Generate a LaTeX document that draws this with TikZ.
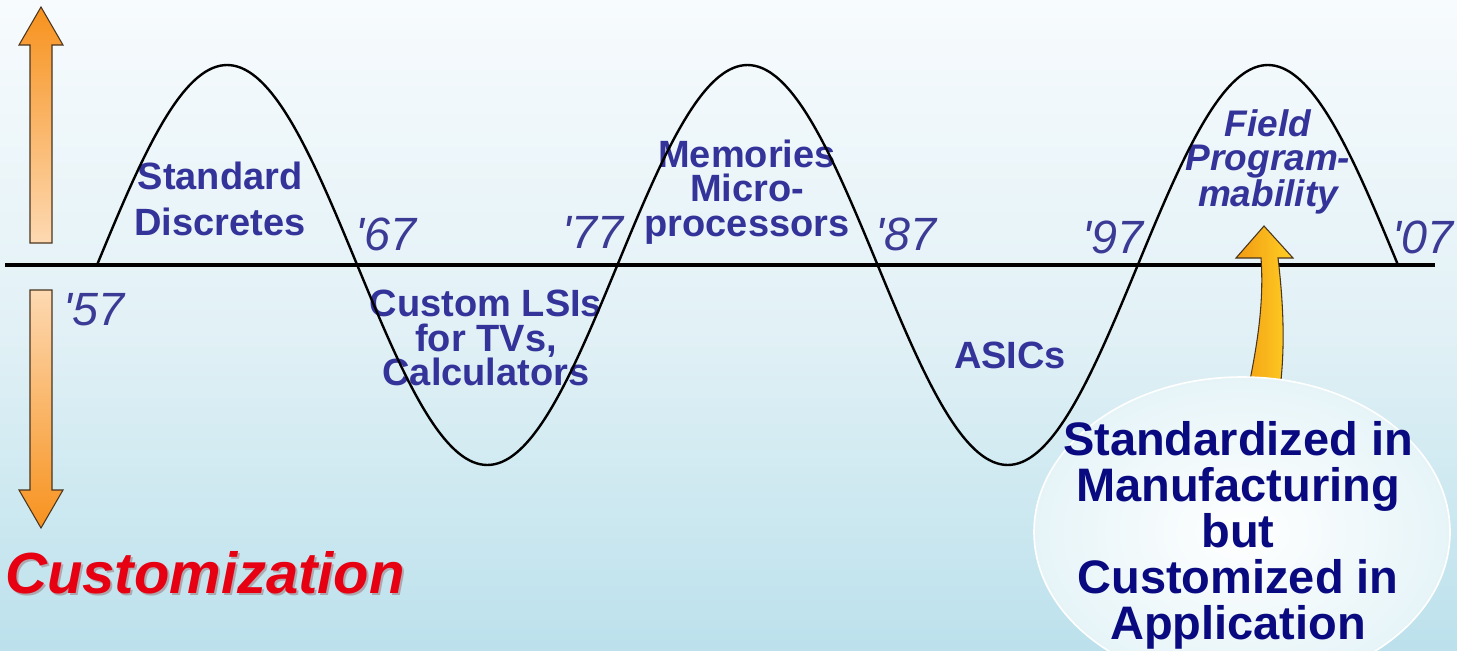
\documentclass[tikz,border=0pt]{standalone}
\usepackage{fontspec}
\setmainfont{Liberation Sans}
\usetikzlibrary{shapes.geometric}

\definecolor{labelblue}{HTML}{333399}
\definecolor{yearblue}{HTML}{3B3B96}
\definecolor{navytext}{HTML}{0A0A80}
\definecolor{custred}{HTML}{E60012}
\definecolor{custshade}{HTML}{7A2020}
\definecolor{arroworange}{HTML}{F7921E}
\definecolor{arrowpale}{HTML}{FDD9B2}
\definecolor{arrowedge}{HTML}{4A3520}
\definecolor{bendorange}{HTML}{F29A12}
\definecolor{bendyellow}{HTML}{FFD024}
\definecolor{bgtop}{HTML}{F7FBFD}
\definecolor{bgmid}{HTML}{E2F1F6}
\definecolor{bgbot}{HTML}{BCE1EC}
\definecolor{bubbleedge}{HTML}{E6F4F8}

\begin{document}
\begin{tikzpicture}[x=0.75pt,y=-0.75pt,
  era/.style={font=\bfseries\fontsize{28.5}{#1}\selectfont, text=labelblue,
              align=center, inner sep=0pt},
  era/.default=25.9,
  yearlabel/.style={font=\itshape\fontsize{35}{40}\selectfont, text=yearblue,
                    inner sep=0pt, anchor=base west},
  blockarrow/.style={draw=arrowedge, line width=0.8pt, line join=miter},
  axisline/.style={line width=3pt},
  waveline/.style={line width=1.8pt},
]
% page and background
\useasboundingbox (0,0) rectangle (1457,650);
\shade[top color=bgtop, bottom color=bgbot, middle color=bgmid] (0,0) rectangle (1457,650);

% standardization / customization arrows on the left
\path[blockarrow, top color=arroworange, bottom color=arrowpale]
  (30,243) -- (30,45) -- (19,45) -- (41,7) -- (63,45) -- (52,45) -- (52,243) -- cycle;
\path[blockarrow, top color=arrowpale, bottom color=arroworange]
  (30,290) -- (52,290) -- (52,490) -- (63,490) -- (41,528) -- (19,490) -- (30,490) -- cycle;

% era labels
\node[era=34.5] (discretes) at (220,199) {Standard\\Discretes};
\node[era=25.6] (lsi) at (486,338) {Custom LSIs\\for TVs,\\Calculators};
\node[era] (memories) at (747,192) {Memories\\Micro-\\processors};
\node[era, anchor=base] (asics) at (1010,368) {ASICs};
\node[era=25.6, font=\bfseries\itshape\fontsize{27.75}{25.6}\selectfont] (fpga) at (1268,162)
  {Field\\Program-\\mability};

% year marks
\node[yearlabel] (y57) at (63,325) {\textquotesingle57};
\node[yearlabel] (y67) at (355,250) {\textquotesingle67};
\node[yearlabel] (y77) at (562,248) {\textquotesingle77};
\node[yearlabel] (y87) at (875,250) {\textquotesingle87};
\node[yearlabel] (y97) at (1082,253) {\textquotesingle97};
\node[yearlabel] (y07) at (1392,253) {\textquotesingle07};

% time axis and the swinging wave
\draw[waveline] plot[smooth, samples=181, domain=0:900, variable=\t]
  ({97+\t/180*260.2},{265-200*sin(\t)});
\draw[axisline] (5,265) -- (1435,265);

% bent arrow rising from the bubble
\path[blockarrow, left color=bendorange, right color=bendyellow]
  (1250,380) .. controls (1258,340) and (1264,300) .. (1261,258)
  -- (1236,258) -- (1264,226) -- (1293,258) -- (1278,258)
  .. controls (1283,300) and (1285,340) .. (1281,380) -- cycle;

% bubble with its statement
\node[ellipse, minimum width=312pt, minimum height=232.5pt, inner sep=0pt,
      inner color=white, outer color=bubbleedge, draw=white, line width=1.2pt]
  (bubble) at (1242,532) {};
\node[font=\bfseries\fontsize{35.25}{34.5}\selectfont, text=navytext, align=center,
      inner sep=0pt] (bubbletext) at (1238,535)
  {Standardized in\\Manufacturing\\but\\Customized in\\Application};

% customization caption with its soft drop shadow
\node[font=\bfseries\itshape\fontsize{43.5}{50}\selectfont, text=custshade, opacity=0.3,
      inner sep=0pt, anchor=base west] (custshadow) at (7,595) {Customization};
\node[font=\bfseries\itshape\fontsize{43.5}{50}\selectfont, text=custred,
      inner sep=0pt, anchor=base west] (custom) at (5,593) {Customization};
\end{tikzpicture}
\end{document}
